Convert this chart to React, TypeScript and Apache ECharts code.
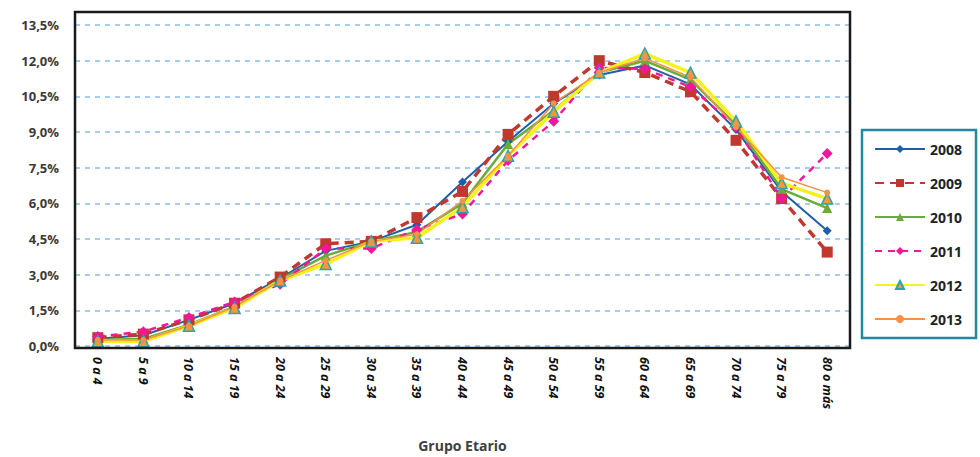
import React, { useEffect, useRef } from "react";
import * as echarts from "echarts";

const categories = ["0 a 4", "5 a 9", "10 a 14", "15 a 19", "20 a 24", "25 a 29", "30 a 34", "35 a 39", "40 a 44", "45 a 49", "50 a 54", "55 a 59", "60 a 64", "65 a 69", "70 a 74", "75 a 79", "80 o más"];

const s2008 = [0.3, 0.45, 1.1, 1.8, 2.85, 4.0, 4.4, 5.1, 6.9, 8.6, 10.2, 11.4, 11.8, 11.0, 9.1, 6.5, 4.85];
const s2009 = [0.35, 0.5, 1.1, 1.8, 2.9, 4.3, 4.4, 5.4, 6.5, 8.9, 10.5, 12.0, 11.5, 10.7, 8.65, 6.2, 3.95];
const s2010 = [0.25, 0.3, 0.9, 1.65, 2.8, 3.8, 4.4, 4.8, 6.0, 8.5, 9.9, 11.5, 12.0, 11.2, 9.3, 6.6, 5.8];
const s2011 = [0.4, 0.6, 1.2, 1.85, 2.6, 4.1, 4.1, 4.9, 5.55, 7.8, 9.45, 11.7, 11.65, 10.9, 9.2, 6.2, 8.1];
const s2012 = [0.2, 0.2, 0.85, 1.6, 2.75, 3.45, 4.4, 4.55, 5.85, 8.0, 9.85, 11.5, 12.3, 11.5, 9.45, 6.85, 6.2];
const s2013 = [0.25, 0.25, 0.85, 1.65, 2.75, 3.6, 4.4, 4.7, 6.1, 8.0, 10.2, 11.5, 12.1, 11.3, 9.2, 7.1, 6.45];

const yTicks = [0, 1.5, 3, 4.5, 6, 7.5, 9, 10.5, 12, 13.5];

export default function App() {
  const ref = useRef<HTMLDivElement>(null);
  useEffect(() => {
    if (!ref.current) return;
    const chart = echarts.init(ref.current, undefined, { renderer: "svg" });
    const fmt = (v: number) => v.toFixed(1).replace(".", ",") + "%";
    chart.setOption({
      animation: false,
      backgroundColor: "#ffffff",
      textStyle: { fontFamily: "Open Sans, Liberation Sans, sans-serif" },
      grid: { left: 75, right: 130, top: 25, bottom: 110, containLabel: false },
      graphic: [
        {
          type: "rect",
          shape: { x: 75, y: 12, width: 775, height: 336 },
          style: { fill: "none", stroke: "#1a1a1a", lineWidth: 2.5 },
          z: 100,
        },
      ],
      xAxis: {
        type: "category",
        data: categories,
        boundaryGap: true,
        axisLine: { show: false },
        axisTick: { show: false },
        axisLabel: {
          rotate: -90,
          interval: 0,
          margin: 11,
          color: "#111",
          fontSize: 12.5,
          fontWeight: "bold",
          fontStyle: "italic",
        },
        name: "Grupo Etario",
        nameLocation: "middle",
        nameGap: 92,
        nameTextStyle: { color: "#404040", fontSize: 14, fontWeight: "bold" },
      },
      yAxis: {
        type: "value",
        min: 0,
        max: 13.5,
        interval: 1.5,
        axisLine: { show: false },
        axisTick: { show: false },
        axisLabel: {
          formatter: (v: number) => (yTicks.includes(Math.round(v * 10) / 10) ? fmt(v) : ""),
          color: "#3a3a3a",
          fontSize: 13,
          fontWeight: "bold",
          margin: 16,
        },
        splitLine: {
          show: true,
          lineStyle: { color: "#a6cdf0", width: 2, type: [5, 5] },
        },
      },
      legend: {
        orient: "vertical",
        left: 862,
        top: 130,
        itemWidth: 50,
        itemHeight: 10,
        itemGap: 20,
        padding: [12, 14, 12, 12],
        borderColor: "#1f8a9c",
        borderWidth: 2.5,
        textStyle: { color: "#222", fontSize: 14, fontWeight: "bold" },
        data: ["2008", "2009", "2010", "2011", "2012", "2013"],
      },
      series: [
        {
          name: "2008",
          type: "line",
          data: s2008,
          symbol: "diamond",
          symbolSize: 9,
          lineStyle: { color: "#1f5ea8", width: 2 },
          itemStyle: { color: "#1f5ea8" },
        },
        {
          name: "2009",
          type: "line",
          data: s2009,
          symbol: "rect",
          symbolSize: 11,
          lineStyle: { color: "#c0392e", width: 3.5, type: [9, 6] },
          itemStyle: { color: "#c0392e" },
        },
        {
          name: "2010",
          type: "line",
          data: s2010,
          symbol: "triangle",
          symbolSize: 10,
          lineStyle: { color: "#6aab3a", width: 2.5 },
          itemStyle: { color: "#6aab3a" },
        },
        {
          name: "2011",
          type: "line",
          data: s2011,
          symbol: "diamond",
          symbolSize: 11,
          lineStyle: { color: "#f0189a", width: 2.5, type: [7, 6] },
          itemStyle: { color: "#f0189a" },
        },
        {
          name: "2012",
          type: "line",
          data: s2012,
          symbol: "triangle",
          symbolSize: 11,
          lineStyle: { color: "#f4f21a", width: 3.5 },
          itemStyle: { color: "#f59a30", borderColor: "#2aa3b3", borderWidth: 1.5 },
        },
        {
          name: "2013",
          type: "line",
          data: s2013,
          symbol: "circle",
          symbolSize: 6,
          lineStyle: { color: "#f7914a", width: 1.5 },
          itemStyle: { color: "#f7914a" },
        },
      ],
    });
    return () => chart.dispose();
  }, []);
  return (
    <div
      ref={ref}
      style={{ position: "fixed", left: 0, top: 0, width: 980, height: 457 }}
    />
  );
}
